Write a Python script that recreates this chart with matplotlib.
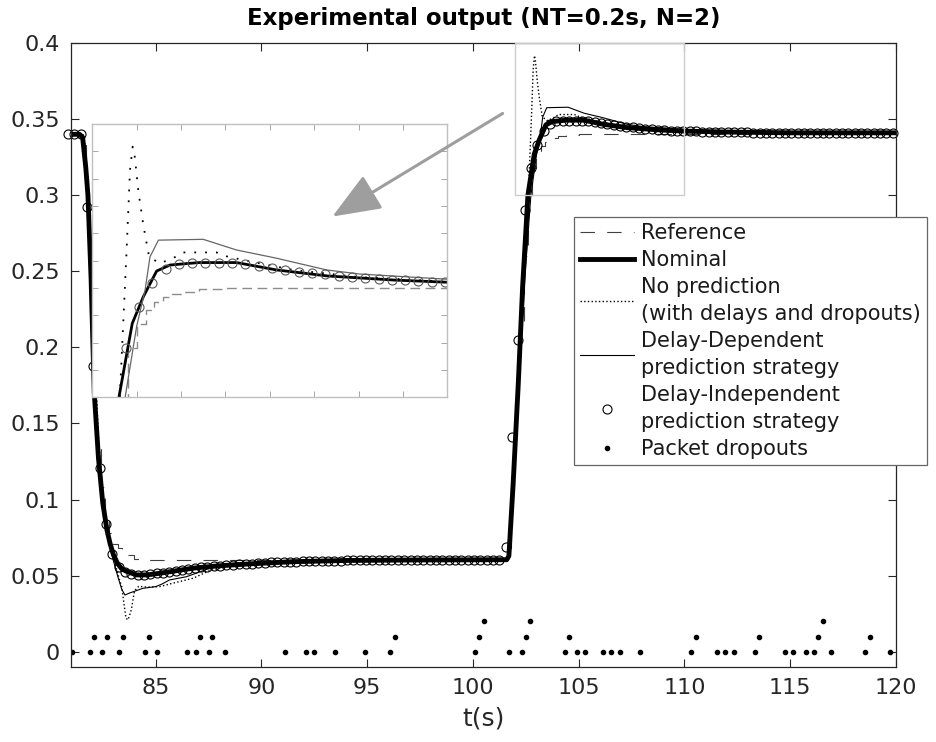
import numpy as np
import matplotlib.pyplot as plt
from matplotlib.patches import Rectangle, FancyArrowPatch, ArrowStyle

# Reference (stair-like, sampled)
ref_t = [80.9, 81.5, 81.6, 81.7, 81.8, 81.9, 82.0, 82.2, 82.4, 82.6, 82.8, 83.0, 83.2, 83.4,
         83.6, 84.0, 84.5, 85.5, 101.5, 101.6, 101.8, 102.0, 102.2, 102.4, 102.6, 102.8,
         103.0, 103.2, 103.4, 103.6, 103.8, 104.0, 104.4, 105.0, 106.0, 120.2]
ref_y = [0.34, 0.34, 0.333, 0.312, 0.265, 0.215, 0.185, 0.14, 0.108, 0.09, 0.078, 0.071, 0.068,
         0.066, 0.0635, 0.061, 0.0603, 0.060, 0.060, 0.068, 0.11, 0.165, 0.215, 0.26, 0.295,
         0.318, 0.327, 0.332, 0.335, 0.3368, 0.3378, 0.3386, 0.3395, 0.3399, 0.340, 0.340]

# Nominal
nom_t = [80.9, 81.4, 81.55, 81.7, 81.8, 81.95, 82.1, 82.3, 82.5, 82.7, 82.85, 83.0, 83.2, 83.4,
         83.6, 84.1, 84.6, 85.2, 86.0, 86.8, 88.0, 89.5, 91.5, 94.0, 97.0, 101.6, 101.7, 101.9,
         102.15, 102.35, 102.6, 102.9, 103.15, 103.45, 103.75, 104.4, 105.25, 106.15, 107.3,
         108.8, 110.0, 112.0, 115.0, 120.2]
nom_y = [0.34, 0.34, 0.338, 0.318, 0.30, 0.245, 0.17, 0.127, 0.098, 0.08, 0.071, 0.064, 0.058,
         0.0545, 0.053, 0.0505, 0.0505, 0.0516, 0.0533, 0.055, 0.0565, 0.0578, 0.0592, 0.060,
         0.0603, 0.0605, 0.063, 0.11, 0.178, 0.24, 0.30, 0.327, 0.3368, 0.3462, 0.3484, 0.3493,
         0.3493, 0.3466, 0.3444, 0.3429, 0.3421, 0.3415, 0.341, 0.341]

# No prediction (with delays and dropouts)
np_t = [80.9, 81.5, 81.65, 81.8, 81.95, 82.1, 82.3, 82.5, 82.7, 82.9, 83.1, 83.3, 83.4, 83.5,
        83.6, 83.7, 83.85, 84.0, 84.2, 84.6, 85.19, 85.8, 86.77, 87.5, 88.3, 89.5, 92.0, 95.0,
        101.6, 101.7, 101.9, 102.15, 102.4, 102.62, 102.77, 102.85, 102.91, 102.95, 103.04,
        103.15, 103.28, 103.52, 103.82, 104.05, 104.8, 105.06, 105.78, 106.53, 108.0, 110.0,
        112.0, 115.0, 120.2]
np_y = [0.34, 0.34, 0.335, 0.31, 0.26, 0.20, 0.14, 0.105, 0.083, 0.068, 0.057, 0.047, 0.0428,
        0.032, 0.022, 0.021, 0.0275, 0.040, 0.043, 0.0425, 0.0428, 0.045, 0.0483, 0.053, 0.056,
        0.058, 0.0595, 0.060, 0.0602, 0.063, 0.105, 0.175, 0.24, 0.30, 0.3527, 0.3832, 0.3917,
        0.389, 0.3752, 0.363, 0.3514, 0.349, 0.3509, 0.353, 0.353, 0.3514, 0.349, 0.3466, 0.344,
        0.3423, 0.3415, 0.341, 0.341]

# Delay-Dependent prediction strategy
dd_t = [80.9, 81.45, 81.6, 81.75, 81.9, 82.05, 82.2, 82.4, 82.6, 82.8, 83.0, 83.2, 83.4, 83.55,
        83.75, 83.95, 84.4, 85.0, 85.3, 85.66, 86.45, 87.0, 87.4, 88.0, 88.66, 90.0, 92.0, 95.0,
        101.6, 101.75, 101.95, 102.2, 102.45, 102.74, 103.0, 103.19, 103.3, 103.49, 104.5,
        105.25, 106.15, 107.28, 108.03, 110.0, 112.0, 115.0, 120.2]
dd_y = [0.34, 0.34, 0.336, 0.31, 0.262, 0.20, 0.15, 0.113, 0.09, 0.072, 0.06, 0.05, 0.041,
        0.0373, 0.0385, 0.0395, 0.0417, 0.0428, 0.0445, 0.0472, 0.0493, 0.052, 0.0541, 0.0565,
        0.0581, 0.0588, 0.0595, 0.060, 0.0602, 0.065, 0.115, 0.18, 0.245, 0.30, 0.326, 0.3393,
        0.3514, 0.3575, 0.3578, 0.3539, 0.3509, 0.3466, 0.3451, 0.3432, 0.342, 0.3412, 0.341]

# Delay-Independent prediction strategy (one sample every 0.3 s from 80.85 s)
di_y = [0.340, 0.340, 0.340, 0.292, 0.188, 0.121, 0.084, 0.064, 0.056, 0.0525,
        0.051, 0.0505, 0.0505, 0.051, 0.0515, 0.052, 0.0527, 0.0533, 0.054, 0.0545,
        0.055, 0.0555, 0.0558, 0.0562, 0.0566, 0.057, 0.0573, 0.0575, 0.0578, 0.058,
        0.0582, 0.0585, 0.0587, 0.0589, 0.059, 0.0592, 0.0593, 0.0594, 0.0595, 0.0596,
        0.0597, 0.0598, 0.0598, 0.0599, 0.060, 0.060, 0.060, 0.0601, 0.0601, 0.0601,
        0.0601, 0.0602, 0.0602, 0.0602, 0.0602, 0.0602, 0.0603, 0.0603, 0.0603, 0.0603,
        0.0603, 0.0603, 0.0604, 0.0604, 0.0604, 0.0604, 0.0604, 0.0604, 0.0605, 0.069,
        0.141, 0.205, 0.29, 0.318, 0.333, 0.342, 0.347, 0.3487, 0.349, 0.349,
        0.349, 0.349, 0.3487, 0.348, 0.3472, 0.3465, 0.346, 0.3455, 0.345, 0.3445,
        0.344, 0.3436, 0.3432, 0.343, 0.3428, 0.3425, 0.3422, 0.3421, 0.342, 0.3419,
        0.3418, 0.3417, 0.3416, 0.3415, 0.3414, 0.3413, 0.3412, 0.3412, 0.3411, 0.3411,
        0.341, 0.341, 0.341, 0.341, 0.341, 0.341, 0.341, 0.341, 0.341, 0.341,
        0.341, 0.341, 0.341, 0.341, 0.341, 0.341, 0.341, 0.341, 0.341, 0.341, 0.341]
di_t = np.round(80.85 + 0.3 * np.arange(len(di_y)), 2)

# Packet dropouts (stacked when consecutive)
drop_t = [81.06, 81.88, 82.48, 83.26, 84.48, 85.08, 86.48, 86.89, 87.50, 88.28, 91.11, 92.09,
          92.50, 93.49, 94.88, 96.08, 100.09, 101.72, 102.32, 104.33, 104.93, 105.32, 106.13,
          106.52, 106.93, 107.92, 110.33, 111.53, 111.92, 112.34, 113.33, 114.74, 115.15,
          115.75, 116.14, 116.95, 118.55, 119.74,
          82.08, 82.68, 83.48, 84.68, 87.10, 87.68, 96.30, 100.29, 102.51, 104.52, 110.54,
          113.54, 116.33, 118.75,
          100.50, 102.72, 116.54]
drop_y = [0.0] * 38 + [0.01] * 14 + [0.02] * 3

xticks = [85, 90, 95, 100, 105, 110, 115, 120]
yticks = [0, 0.05, 0.1, 0.15, 0.2, 0.25, 0.3, 0.35, 0.4]
ytick_labels = ['0', '0.05', '0.1', '0.15', '0.2', '0.25', '0.3', '0.35', '0.4']

W, H = 936, 742
fig = plt.figure(figsize=(W / 100, H / 100), dpi=100)
ax = fig.add_axes([71 / W, 1 - 667 / H, 825 / W, 624 / H])

ax.plot(ref_t, ref_y, color='0.25', lw=0.8, dashes=(13, 11), drawstyle='steps-post',
        label='Reference')
ax.plot(nom_t, nom_y, color='black', lw=3.5, label='Nominal')
ax.plot(np_t, np_y, color='black', lw=1.0, ls=':',
        label='No prediction\n(with delays and dropouts)')
ax.plot(dd_t, dd_y, color='black', lw=0.8,
        label='Delay-Dependent\nprediction strategy')
ax.plot(di_t, di_y, ls='none', marker='o', ms=6.5, mfc='none', mec='black', mew=0.8,
        label='Delay-Independent\nprediction strategy', clip_on=False)
ax.plot(drop_t, drop_y, ls='none', marker='.', ms=6, color='black', label='Packet dropouts')

ax.set_xlim(81, 120)
ax.set_ylim(-0.01, 0.4)
ax.set_xticks(xticks)
ax.set_yticks(yticks)
ax.set_yticklabels(ytick_labels)
ax.tick_params(direction='in', length=6, width=0.8, top=True, right=True,
               labelsize=16, color='0.15', labelcolor='0.15', pad=8)
for s in ax.spines.values():
    s.set_color('0.15')
    s.set_linewidth(0.9)
ax.set_xlabel('t(s)', fontsize=18, color='0.15', labelpad=6)
ax.set_title('Experimental output (NT=0.2s, N=2)', fontsize=16.5, fontweight='bold', pad=13)

# zoom box
ax.add_patch(Rectangle((102, 0.30), 8, 0.10, fill=False, edgecolor='0.8', lw=1.0, zorder=5))

leg = ax.legend(loc='upper left', bbox_to_anchor=(574 / W, 1 - 217 / H),
                bbox_transform=fig.transFigure, fontsize=15, frameon=True, fancybox=False,
                edgecolor='0.4', framealpha=1, borderaxespad=0, labelspacing=0.32,
                handlelength=2.6, handletextpad=0.3, borderpad=0.3)
leg.get_frame().set_linewidth(0.9)
for txt in leg.get_texts():
    txt.set_linespacing(1.47)
    txt.set_color('0.1')

# inset
axi = fig.add_axes([92.3 / W, 1 - 397.3 / H, 355 / W, 273.3 / H])
axi.plot(ref_t, ref_y, color='0.55', lw=1.0, dashes=(7, 4), drawstyle='steps-post')
axi.plot(nom_t, nom_y, color='black', lw=2.0)
axi.plot(np_t, np_y, color='black', lw=1.3, ls=(0, (1, 5)))
axi.plot(dd_t, dd_y, color='0.4', lw=0.9)
axi.plot(di_t, di_y, ls='none', marker='o', ms=6.5, mfc='none', mec='0.35', mew=0.8)
axi.set_xlim(102, 110)
axi.set_ylim(0.30, 0.40)
axi.set_xticks(np.arange(103, 110))
axi.set_yticks(np.arange(0.31, 0.40, 0.01))
axi.tick_params(direction='in', length=4, width=0.6, top=True, right=True, color='0.6',
                labelbottom=False, labelleft=False)
for s in axi.spines.values():
    s.set_color('0.75')
    s.set_linewidth(1.0)

arrow = FancyArrowPatch((505 / W, 1 - 112 / H), (330 / W, 1 - 218 / H),
                        transform=fig.transFigure, color='0.62', lw=2.2,
                        arrowstyle=ArrowStyle('-|>', head_length=0.75, head_width=0.3),
                        mutation_scale=40, zorder=10)
fig.add_artist(arrow)

fig.savefig('out.png', dpi=100)
